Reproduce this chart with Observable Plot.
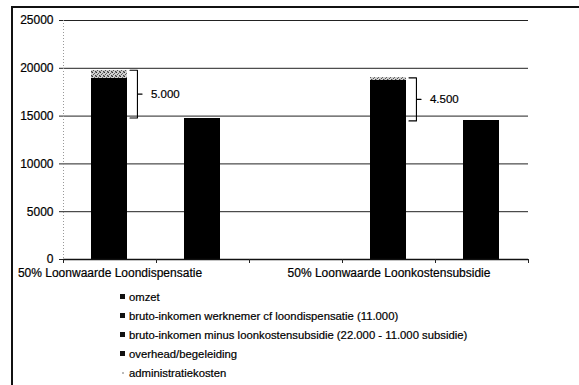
<!DOCTYPE html>
<html>
<head>
<meta charset="utf-8">
<script src="https://cdn.jsdelivr.net/npm/d3@7"></script>
<script src="https://cdn.jsdelivr.net/npm/@observablehq/plot@0.6"></script>
<style>
  body { margin: 0; background: #fff; font-family: "Liberation Sans", Arial, sans-serif; }
  #frame { position: absolute; left: 11px; top: 6px; width: 600px; height: 400px;
           border-left: 2px solid #111; border-top: 2px solid #111; }
  #chart { position: absolute; left: 0; top: 0; }
  #chart text { stroke: #000; stroke-width: 0.2px; }
  #legend { position: absolute; left: 120px; top: 287px; font-size: 11.3px; color: #000;
            -webkit-text-stroke: 0.2px #000; }
  .row { height: 19px; display: flex; align-items: center; white-space: nowrap; }
  .key { width: 5px; height: 5px; margin-right: 4px; background: #111; flex: none; }
  .key.light { width: 2px; height: 2px; margin: 0 5px 0 2px; background: #bbb; }
</style>
</head>
<body>
<div id="frame"></div>
<div id="chart"></div>
<div id="legend"></div>
<script>
// Category slots along the x axis (only two carry a label)
const slotLabels = ["50% Loonwaarde Loondispensatie", "", "", "50% Loonwaarde Loonkostensubsidie", ""];

// Series names, in stacking order
const series = [
  "omzet",
  "bruto-inkomen werknemer cf loondispensatie (11.000)",
  "bruto-inkomen minus loonkostensubsidie (22.000 - 11.000 subsidie)",
  "overhead/begeleiding",
  "administratiekosten"
];

// Values per slot, one array per series
const omzet            = [0, 14800, 0, 0, 14500];
const brutoDispensatie = [11000, 0, 0, 0, 0];
const brutoSubsidie    = [0, 0, 0, 11000, 0];
const overhead         = [7900, 0, 0, 7750, 0];
const administratie    = [900, 0, 0, 250, 0];

const yTicks = [0, 5000, 10000, 15000, 20000, 25000];

// Cost bars that get a bracket to the revenue bar next to them
const costSlots = [0, 3];

const seriesValues = [omzet, brutoDispensatie, brutoSubsidie, overhead, administratie];
const seriesFills = ["#000", "#000", "#000", "#000", "url(#stip)"];

const rows = [];
series.forEach((name, k) => {
  seriesValues[k].forEach((v, slot) => { if (v) rows.push({slot, series: name, value: v}); });
});

const nl = d3.formatLocale({decimal: ",", thousands: ".", grouping: [3], currency: ["€", ""]});
const fmtDiff = nl.format(",d");

const brackets = costSlots.map(slot => {
  const top = brutoDispensatie[slot] + brutoSubsidie[slot] + overhead[slot] + administratie[slot];
  const bottom = omzet[slot + 1];
  return {slot, top, bottom, mid: (top + bottom) / 2, diff: top - bottom};
});

// Brace shape offsets (in slot units from the bar centre)
const hookX = 0.215, spineX = 0.295, tipX = 0.345, labelX = 0.44;
const bracePts = brackets.flatMap(b => [
  {id: b.slot, x: b.slot + 0.5 + hookX,  y: b.top},
  {id: b.slot, x: b.slot + 0.5 + spineX, y: b.top},
  {id: b.slot, x: b.slot + 0.5 + spineX, y: b.mid},
  {id: b.slot, x: b.slot + 0.5 + tipX,   y: b.mid},
  {id: b.slot, x: b.slot + 0.5 + spineX, y: b.mid},
  {id: b.slot, x: b.slot + 0.5 + spineX, y: b.bottom},
  {id: b.slot, x: b.slot + 0.5 + hookX,  y: b.bottom}
]);

const svg = Plot.plot({
  width: 579,
  height: 285,
  marginLeft: 63,
  marginRight: 51,
  marginTop: 20,
  marginBottom: 26,
  style: {fontFamily: "Liberation Sans, Arial, sans-serif", fontSize: "12px", color: "#000", background: "transparent"},
  x: {type: "linear", domain: [0, slotLabels.length], label: null},
  y: {domain: [0, 25000], label: null},
  color: {domain: series, range: seriesFills},
  marks: [
    Plot.gridY(yTicks, {stroke: "#222", strokeOpacity: 1, strokeWidth: 1}),
    Plot.ruleX([0], {stroke: "#999", strokeDasharray: "1,2"}),
    Plot.axisY(yTicks, {tickSize: 4, tickPadding: 6, tickFormat: d3.format("d"), fontSize: 12, stroke: "#222"}),
    Plot.rectY(rows, Plot.stackY({
      x1: "slot", x2: d => d.slot + 1, y: "value", fill: "series",
      insetLeft: 28, insetRight: 29, shapeRendering: "crispEdges"
    })),
    Plot.ruleY([0], {stroke: "#111", strokeWidth: 1.3}),
    Plot.axisX(d3.range(slotLabels.length + 1), {tickSize: 4, tickFormat: () => "", stroke: "#222"}),
    Plot.axisX(slotLabels.map((d, i) => i + 0.5).filter((d, i) => slotLabels[i]), {
      tickSize: 0, tickPadding: 9, fontSize: 12, tickFormat: d => slotLabels[d - 0.5]
    }),
    Plot.line(bracePts, {x: "x", y: "y", z: "id", stroke: "#000", strokeWidth: 1.1}),
    Plot.text(brackets, {
      x: d => d.slot + 0.5 + labelX, y: "mid", text: d => fmtDiff(d.diff),
      textAnchor: "start", fontSize: 11.5, fill: "#000"
    })
  ]
});

// Stipple pattern used for the administratiekosten segment
const defs = d3.select(svg).insert("defs", ":first-child");
const pat = defs.append("pattern").attr("id", "stip")
  .attr("patternUnits", "userSpaceOnUse").attr("width", 4).attr("height", 4);
pat.append("rect").attr("width", 4).attr("height", 4).attr("fill", "#cfcfcf");
[[0, 0, "#333"], [2, 1, "#666"], [1, 2, "#555"], [3, 3, "#444"], [3, 0, "#888"], [0, 3, "#999"]]
  .forEach(([x, y, c]) => pat.append("rect").attr("x", x).attr("y", y)
    .attr("width", 1).attr("height", 1).attr("fill", c));

document.getElementById("chart").appendChild(svg);

// Legend
const legend = d3.select("#legend");
series.forEach((name, k) => {
  const row = legend.append("div").attr("class", "row");
  row.append("span").attr("class", k === series.length - 1 ? "key light" : "key");
  row.append("span").text(name);
});
</script>
</body>
</html>
